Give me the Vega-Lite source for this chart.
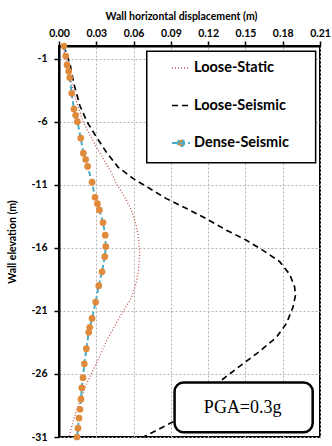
{
  "$schema": "https://vega.github.io/schema/vega-lite/v6.json",
  "autosize": {"type": "none"},
  "width": 261,
  "height": 391,
  "padding": {"left": 59, "top": 46, "right": 12, "bottom": 9},
  "background": "white",
  "config": {
    "view": {"stroke": "black", "strokeWidth": 2},
    "axis": {
      "labelFont": "Lato", "labelFontWeight": "bold", "labelFontSize": 10.5, "labelColor": "black",
      "titleFont": "Lato", "titleFontWeight": "bold", "titleFontSize": 10.5, "titleColor": "black",
      "domainColor": "black", "domainWidth": 2, "tickColor": "black", "tickWidth": 1.5, "tickSize": 5,
      "gridColor": "#b3b3b3", "gridDash": [2, 2], "gridWidth": 1, "labelOverlap": false
    },
    "axisX": {
      "orient": "top", "grid": true, "labelPadding": 3, "titlePadding": 7, "labelFlush": false,
      "labelOverlap": false, "titleX": 122, "titleAlign": "center"
    },
    "axisY": {
      "grid": true, "labelPadding": 7, "titlePadding": 13, "labelOverlap": false
    },
    "legend": {
      "orient": "none", "legendX": 112, "legendY": 12, "title": null,
      "labelFont": "Lato", "labelFontWeight": "bold", "labelFontSize": 14.5, "labelColor": "black",
      "labelLimit": 300, "labelOffset": 3, "rowPadding": 20.5, "padding": 0,
      "symbolType": "stroke", "symbolSize": 324, "symbolStrokeWidth": 2
    }
  },
  "datasets": {
    "curves": [
      {"series": "Loose-Static", "elev": 0, "disp": 0.003},
      {"series": "Loose-Static", "elev": -2, "disp": 0.008},
      {"series": "Loose-Static", "elev": -4, "disp": 0.0128},
      {"series": "Loose-Static", "elev": -6, "disp": 0.0193},
      {"series": "Loose-Static", "elev": -8, "disp": 0.030},
      {"series": "Loose-Static", "elev": -10, "disp": 0.042},
      {"series": "Loose-Static", "elev": -11, "disp": 0.0467},
      {"series": "Loose-Static", "elev": -12, "disp": 0.053},
      {"series": "Loose-Static", "elev": -13, "disp": 0.0583},
      {"series": "Loose-Static", "elev": -14, "disp": 0.0615},
      {"series": "Loose-Static", "elev": -15, "disp": 0.0638},
      {"series": "Loose-Static", "elev": -16.5, "disp": 0.0649},
      {"series": "Loose-Static", "elev": -18, "disp": 0.0637},
      {"series": "Loose-Static", "elev": -19, "disp": 0.0615},
      {"series": "Loose-Static", "elev": -20, "disp": 0.058},
      {"series": "Loose-Static", "elev": -21.5, "disp": 0.0488},
      {"series": "Loose-Static", "elev": -23.4, "disp": 0.0381},
      {"series": "Loose-Static", "elev": -25.2, "disp": 0.030},
      {"series": "Loose-Static", "elev": -26.8, "disp": 0.022},
      {"series": "Loose-Static", "elev": -28.9, "disp": 0.014},
      {"series": "Loose-Static", "elev": -31, "disp": 0.0078},
      {"series": "Loose-Seismic", "elev": 0, "disp": 0.004},
      {"series": "Loose-Seismic", "elev": -1.5, "disp": 0.009},
      {"series": "Loose-Seismic", "elev": -3, "disp": 0.012},
      {"series": "Loose-Seismic", "elev": -4.7, "disp": 0.0167},
      {"series": "Loose-Seismic", "elev": -6, "disp": 0.0225},
      {"series": "Loose-Seismic", "elev": -7.2, "disp": 0.030},
      {"series": "Loose-Seismic", "elev": -8.4, "disp": 0.038},
      {"series": "Loose-Seismic", "elev": -9.6, "disp": 0.0475},
      {"series": "Loose-Seismic", "elev": -10.5, "disp": 0.0595},
      {"series": "Loose-Seismic", "elev": -11.3, "disp": 0.073},
      {"series": "Loose-Seismic", "elev": -12.1, "disp": 0.0864},
      {"series": "Loose-Seismic", "elev": -13, "disp": 0.105},
      {"series": "Loose-Seismic", "elev": -13.7, "disp": 0.1186},
      {"series": "Loose-Seismic", "elev": -14.6, "disp": 0.1347},
      {"series": "Loose-Seismic", "elev": -15.4, "disp": 0.1508},
      {"series": "Loose-Seismic", "elev": -16.2, "disp": 0.1641},
      {"series": "Loose-Seismic", "elev": -17.1, "disp": 0.1776},
      {"series": "Loose-Seismic", "elev": -18.1, "disp": 0.1856},
      {"series": "Loose-Seismic", "elev": -19.1, "disp": 0.1896},
      {"series": "Loose-Seismic", "elev": -19.8, "disp": 0.1902},
      {"series": "Loose-Seismic", "elev": -20.7, "disp": 0.1883},
      {"series": "Loose-Seismic", "elev": -22, "disp": 0.183},
      {"series": "Loose-Seismic", "elev": -23.1, "disp": 0.1749},
      {"series": "Loose-Seismic", "elev": -24.2, "disp": 0.1615},
      {"series": "Loose-Seismic", "elev": -25.2, "disp": 0.148},
      {"series": "Loose-Seismic", "elev": -26.4, "disp": 0.132},
      {"series": "Loose-Seismic", "elev": -28, "disp": 0.1132},
      {"series": "Loose-Seismic", "elev": -29.8, "disp": 0.0917},
      {"series": "Loose-Seismic", "elev": -31, "disp": 0.068},
      {"series": "Dense-Seismic", "elev": 0, "disp": 0.004},
      {"series": "Dense-Seismic", "elev": -0.8, "disp": 0.0054},
      {"series": "Dense-Seismic", "elev": -1.5, "disp": 0.0064},
      {"series": "Dense-Seismic", "elev": -2.0, "disp": 0.0078},
      {"series": "Dense-Seismic", "elev": -2.5, "disp": 0.0086},
      {"series": "Dense-Seismic", "elev": -3.75, "disp": 0.0102},
      {"series": "Dense-Seismic", "elev": -5.0, "disp": 0.012},
      {"series": "Dense-Seismic", "elev": -5.5, "disp": 0.0134},
      {"series": "Dense-Seismic", "elev": -6.0, "disp": 0.0148},
      {"series": "Dense-Seismic", "elev": -7.3, "disp": 0.0175},
      {"series": "Dense-Seismic", "elev": -8.5, "disp": 0.0196},
      {"series": "Dense-Seismic", "elev": -9.0, "disp": 0.0215},
      {"series": "Dense-Seismic", "elev": -9.55, "disp": 0.023},
      {"series": "Dense-Seismic", "elev": -10.8, "disp": 0.0266},
      {"series": "Dense-Seismic", "elev": -12.0, "disp": 0.029},
      {"series": "Dense-Seismic", "elev": -12.5, "disp": 0.0309},
      {"series": "Dense-Seismic", "elev": -13.0, "disp": 0.0325},
      {"series": "Dense-Seismic", "elev": -14.0, "disp": 0.0354},
      {"series": "Dense-Seismic", "elev": -15.0, "disp": 0.0372},
      {"series": "Dense-Seismic", "elev": -15.9, "disp": 0.0376},
      {"series": "Dense-Seismic", "elev": -16.7, "disp": 0.0368},
      {"series": "Dense-Seismic", "elev": -17.9, "disp": 0.0346},
      {"series": "Dense-Seismic", "elev": -19.0, "disp": 0.032},
      {"series": "Dense-Seismic", "elev": -20.3, "disp": 0.0295},
      {"series": "Dense-Seismic", "elev": -21.6, "disp": 0.0266},
      {"series": "Dense-Seismic", "elev": -22.3, "disp": 0.0247},
      {"series": "Dense-Seismic", "elev": -22.7, "disp": 0.0239},
      {"series": "Dense-Seismic", "elev": -24.0, "disp": 0.022},
      {"series": "Dense-Seismic", "elev": -25.2, "disp": 0.0204},
      {"series": "Dense-Seismic", "elev": -26.3, "disp": 0.0193},
      {"series": "Dense-Seismic", "elev": -27.1, "disp": 0.0183},
      {"series": "Dense-Seismic", "elev": -28.0, "disp": 0.0177},
      {"series": "Dense-Seismic", "elev": -28.8, "disp": 0.0169},
      {"series": "Dense-Seismic", "elev": -29.5, "disp": 0.0161},
      {"series": "Dense-Seismic", "elev": -30.3, "disp": 0.0153},
      {"series": "Dense-Seismic", "elev": -31.0, "disp": 0.0145}
    ],
    "boxes": [
      {"box": "legend"},
      {"box": "pga"}
    ]
  },
  "layer": [
    {
      "data": {"name": "curves"},
      "mark": {"type": "line", "clip": false},
      "encoding": {
        "x": {
          "field": "disp", "type": "quantitative", "title": "Wall horizontal displacement (m)",
          "scale": {"domain": [0, 0.21], "nice": false, "zero": false},
          "axis": {"values": [0, 0.03, 0.06, 0.09, 0.12, 0.15, 0.18, 0.21], "format": ".2f"}
        },
        "y": {
          "field": "elev", "type": "quantitative", "title": "Wall elevation (m)",
          "scale": {"domain": [-31, 0], "nice": false, "zero": false},
          "axis": {"values": [-1, -6, -11, -16, -21, -26, -31], "labelExpr": "datum.value + ''"}
        },
        "color": {
          "field": "series", "type": "nominal",
          "scale": {"domain": ["Loose-Static", "Loose-Seismic", "Dense-Seismic"], "range": ["#c0504d", "#000000", "#4bacc6"]},
          "legend": {
            "encode": {"symbols": {"update": {
              "shape": {"signal": "datum.value === 'Dense-Seismic' ? 'M-1,0L1,0M0.36,0A0.36,0.36,0,1,1,-0.36,0A0.36,0.36,0,1,1,0.36,0Z' : 'stroke'"},
              "fill": {"signal": "datum.value === 'Dense-Seismic' ? '#e08a3c' : 'transparent'"}
            }}}
          }
        },
        "strokeDash": {
          "field": "series", "type": "nominal",
          "scale": {"domain": ["Loose-Static", "Loose-Seismic", "Dense-Seismic"], "range": [[1, 2], [6, 4], [5, 3]]}
        },
        "strokeWidth": {
          "field": "series", "type": "nominal",
          "scale": {"domain": ["Loose-Static", "Loose-Seismic", "Dense-Seismic"], "range": [1.3, 2, 2]},
          "legend": null
        },
        "order": {"field": "elev", "sort": "descending"}
      }
    },
    {
      "data": {"name": "curves"},
      "transform": [{"filter": "datum.series === 'Dense-Seismic'"}],
      "mark": {"type": "point", "filled": true, "color": "#e08a3c", "size": 45, "opacity": 1, "clip": false},
      "encoding": {
        "x": {"field": "disp", "type": "quantitative", "title": "Wall horizontal displacement (m)",
          "axis": {"values": [0, 0.03, 0.06, 0.09, 0.12, 0.15, 0.18, 0.21], "format": ".2f"}},
        "y": {"field": "elev", "type": "quantitative", "title": "Wall elevation (m)",
          "axis": {"values": [-1, -6, -11, -16, -21, -26, -31], "labelExpr": "datum.value + ''"}}
      }
    },
    {
      "data": {"name": "boxes"},
      "transform": [{"filter": "datum.box === 'legend'"}],
      "mark": {"type": "rect", "fill": "white", "stroke": "black", "strokeWidth": 1.5},
      "encoding": {
        "x": {"datum": 0.0706, "title": "Wall horizontal displacement (m)",
          "axis": {"values": [0, 0.03, 0.06, 0.09, 0.12, 0.15, 0.18, 0.21], "format": ".2f"}},
        "x2": {"datum": 0.2065},
        "y": {"datum": -0.42, "title": "Wall elevation (m)",
          "axis": {"values": [-1, -6, -11, -16, -21, -26, -31], "labelExpr": "datum.value + ''"}},
        "y2": {"datum": -9.25}
      }
    },
    {
      "data": {"name": "boxes"},
      "transform": [{"filter": "datum.box === 'pga'"}],
      "mark": {"type": "rect", "fill": "white", "stroke": "black", "strokeWidth": 2.5, "cornerRadius": 9},
      "encoding": {
        "x": {"datum": 0.093, "title": "Wall horizontal displacement (m)",
          "axis": {"values": [0, 0.03, 0.06, 0.09, 0.12, 0.15, 0.18, 0.21], "format": ".2f"}},
        "x2": {"datum": 0.2041},
        "y": {"datum": -26.67, "title": "Wall elevation (m)",
          "axis": {"values": [-1, -6, -11, -16, -21, -26, -31], "labelExpr": "datum.value + ''"}},
        "y2": {"datum": -30.63}
      }
    },
    {
      "data": {"name": "boxes"},
      "transform": [{"filter": "datum.box === 'pga'"}],
      "mark": {"type": "text", "text": "PGA=0.3g", "font": "Liberation Serif", "fontSize": 18, "color": "black", "align": "center", "baseline": "middle"},
      "encoding": {
        "x": {"datum": 0.1478, "title": "Wall horizontal displacement (m)",
          "axis": {"values": [0, 0.03, 0.06, 0.09, 0.12, 0.15, 0.18, 0.21], "format": ".2f"}},
        "y": {"datum": -28.67, "title": "Wall elevation (m)",
          "axis": {"values": [-1, -6, -11, -16, -21, -26, -31], "labelExpr": "datum.value + ''"}}
      }
    }
  ]
}
